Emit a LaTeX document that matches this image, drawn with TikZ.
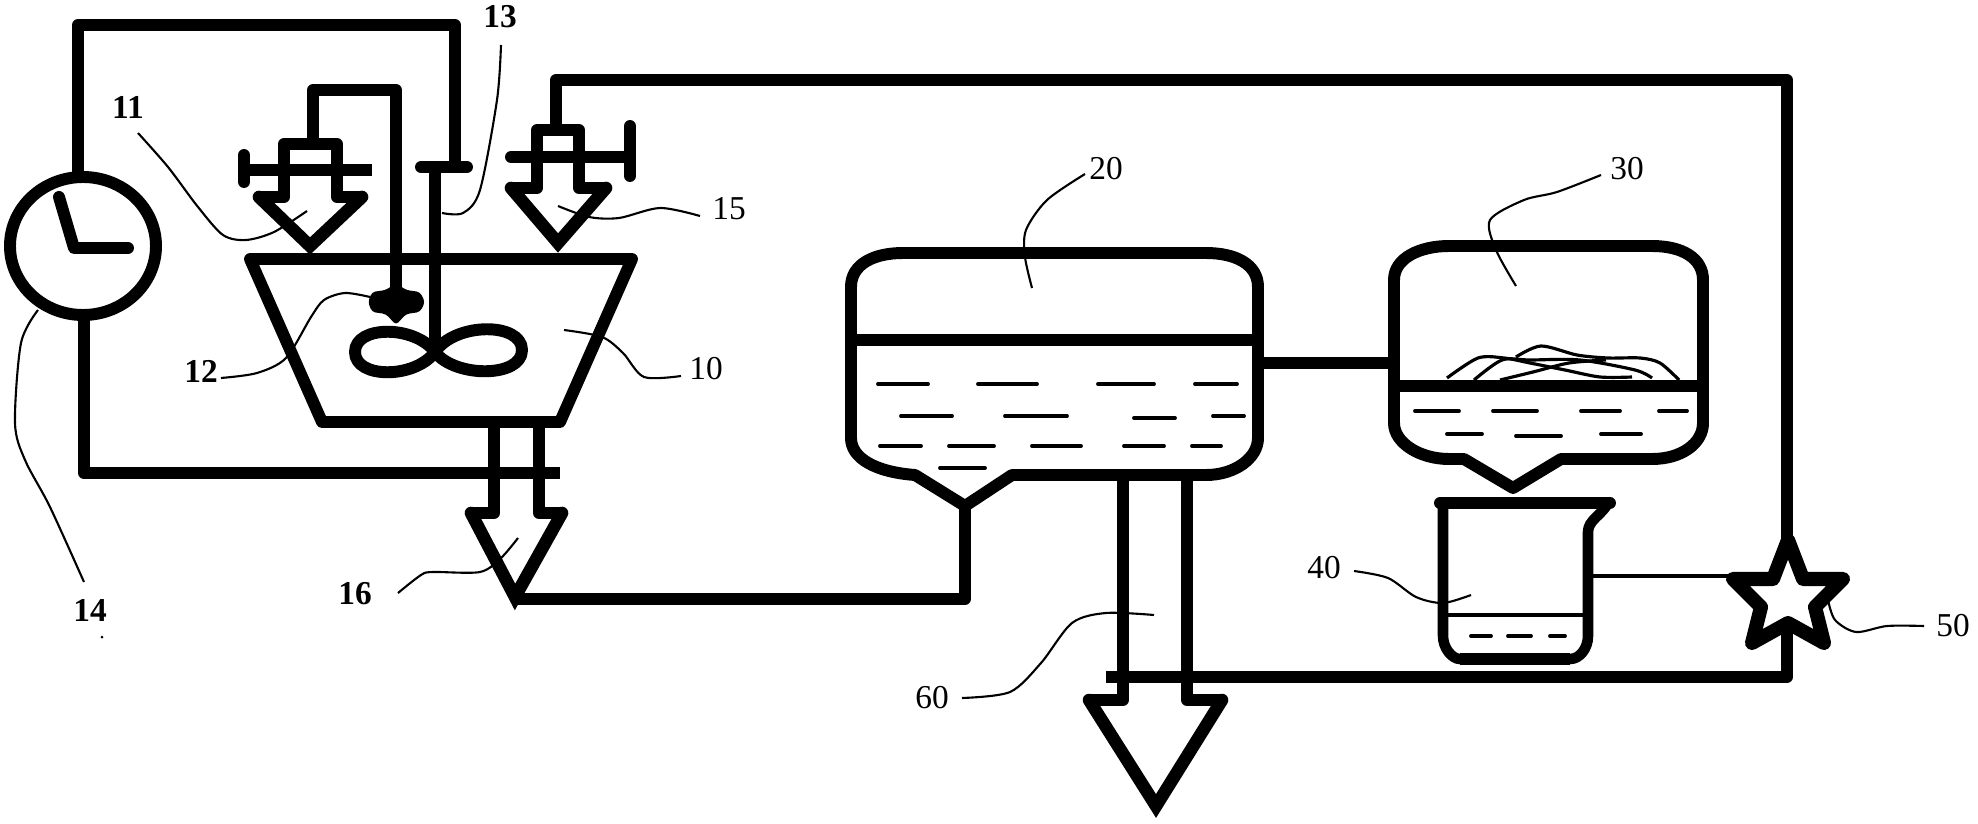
\documentclass[tikz,border=0pt]{standalone}
\usepackage{fontspec}
\setmainfont{Liberation Serif}
\begin{document}
\begin{tikzpicture}[x=0.02cm, y=-0.02cm,
  pipe/.style={line width=6.8pt, line join=round},
  vessel/.style={line width=6.8pt, line join=round},
  arrowhead/.style={line width=7.2pt, line join=miter, line cap=round},
  leader/.style={line width=1.2pt},
  thinline/.style={line width=1.8pt},
  liquid/.style={line width=2.2pt, line cap=round},
  label/.style={font=\fontsize{19}{19}\selectfont, inner sep=0pt},
  boldlabel/.style={label, font=\fontsize{19}{19}\selectfont\bfseries}]
\useasboundingbox (0,0) rectangle (1978,824);
% Clock 14 and its lines
\draw [pipe] (83,246) ellipse [x radius=73, y radius=69];
\draw [pipe, line cap=round] (59,197) -- (74,248) -- (128,248);
\draw [pipe] (78,175) -- (78,25) -- (455,25) -- (455,167);
\draw [pipe] (84,320) -- (84,473) -- (560,473);
% Mixing tank 10
\draw [vessel] (250,259) -- (632,259) -- (560,422) -- (322,422) -- cycle;
\draw [pipe, line cap=round] (421,167) -- (467,167);
\draw [pipe] (435,167) -- (435,350);
\draw [pipe] (435,352) .. controls (415,325) and (355,325) .. (355,352) .. controls (355,379) and (415,379) .. (435,352);
\draw [pipe] (435,352) .. controls (455,322) and (522,322) .. (522,350) .. controls (522,378) and (455,378) .. (435,352);
% Feed valve 11
\draw [pipe] (259,197) -- (284,197) -- (284,144) -- (337,144) -- (337,197) -- (362,197);
\draw [arrowhead] (259,197) -- (310,246) -- (362,197);
\draw [pipe] (242,170) -- (372,170);
\draw [pipe, line cap=round] (244,155) -- (244,182);
\draw [pipe] (313,144) -- (313,90) -- (396,90) -- (396,302);
\fill [rounded corners=2pt] (368,302) -- (372,292) -- (386,290) -- (396,283) -- (406,290) -- (420,292) -- (425,302) -- (420,312) -- (406,314) -- (396,325) -- (386,314) -- (372,312) -- cycle;
% Feed valve 15
\draw [pipe] (511,188) -- (537,188) -- (537,130) -- (579,130) -- (579,188) -- (606,188);
\draw [arrowhead] (511,188) -- (558,243) -- (606,188);
\draw [pipe, line cap=round] (511,157) -- (630,157);
\draw [pipe, line cap=round] (630,126) -- (630,176);
\draw [pipe] (556,130) -- (556,80) -- (1787,80) -- (1787,545);
% Discharge 16
\draw [pipe] (471,513) -- (494,513) -- (494,422);
\draw [pipe] (562,513) -- (539,513) -- (539,422);
\draw [arrowhead] (471,513) -- (515,597) -- (562,513);
\draw [pipe] (515,599) -- (965,599) -- (965,500);
% Settling tank 20
\draw [vessel] (851,287) .. controls (851,264) and (874,253) .. (903,253) -- (1206,253) .. controls (1235,253) and (1258,264) .. (1258,287) -- (1258,438) .. controls (1258,458) and (1235,475) .. (1206,475) -- (1012,475) -- (965,506) -- (915,475) .. controls (875,472) and (851,458) .. (851,438) -- cycle;
\draw [pipe] (851,340) -- (1258,340);
\foreach \xa/\xb/\ya in {878/928/384, 978/1037/384, 1098/1154/384, 1195/1237/384,
  901/952/416, 1005/1067/416, 1134/1175/418, 1213/1244/416,
  880/921/446, 949/994/446, 1032/1081/446, 1124/1164/446, 1192/1221/446, 940/985/468}
  \draw [liquid] (\xa,\ya) -- (\xb,\ya);
\draw [pipe] (1258,363) -- (1394,363);
% Settling tank 30
\draw [vessel] (1394,280) .. controls (1394,258) and (1420,246) .. (1449,246) -- (1652,246) .. controls (1682,246) and (1703,258) .. (1703,280) -- (1703,423) .. controls (1703,443) and (1682,459) .. (1652,459) -- (1561,459) -- (1513,488) -- (1464,459) -- (1449,459) .. controls (1420,459) and (1394,443) .. (1394,423) -- cycle;
\draw [pipe] (1394,386) -- (1703,386);
\foreach \xa/\xb/\ya in {1415/1459/411, 1493/1537/411, 1581/1620/411, 1659/1687/411,
  1447/1482/434, 1516/1561/436, 1601/1641/434}
  \draw [liquid] (\xa,\ya) -- (\xb,\ya);
\draw [thinline] plot [smooth] coordinates {(1447,378) (1478,358) (1504,358) (1530,363) (1565,370) (1600,377) (1632,377)};
\draw [thinline] plot [smooth] coordinates {(1474,380) (1502,360) (1530,360) (1580,360) (1635,370) (1652,378)};
\draw [thinline] plot [smooth] coordinates {(1516,357) (1541,346) (1577,355) (1608,358) (1640,358) (1660,363) (1679,380)};
\draw [thinline] plot [smooth] coordinates {(1500,380) (1533,372) (1569,363) (1606,360)};
% Beaker 40
\draw [line width=6pt, line join=round] (1443,503) -- (1443,636) .. controls (1443,648) and (1452,659) .. (1460,659) -- (1570,659) .. controls (1580,659) and (1588,648) .. (1588,636) -- (1588,532) .. controls (1588,520) and (1602,515) .. (1608,503);
\draw [pipe, line cap=round] (1440,503) -- (1610,503);
\draw [pipe] (1460,659) -- (1570,659);
\draw [thinline] (1443,615) -- (1588,615);
\foreach \xa/\xb in {1471/1491, 1508/1531, 1550/1565}
  \draw [liquid] (\xa,636) -- (\xb,636);
\draw [thinline] (1588,576) -- (1733,576);
% Star 50
\draw [line width=8pt, line join=round] (1788,540) -- (1803,579) -- (1843,579) -- (1815,607) -- (1824,643) -- (1788,623) -- (1752,643) -- (1761,607) -- (1733,579) -- (1773,579) -- cycle;
\draw [pipe] (1787,625) -- (1787,677) -- (1106,677);
% Discharge 60
\draw [pipe] (1089,700) -- (1123,700) -- (1123,475);
\draw [pipe] (1222,700) -- (1187,700) -- (1187,475);
\draw [arrowhead] (1089,700) -- (1156,806) -- (1222,700);
% Leaders
\draw [leader] plot [smooth] coordinates {(138,133) (168,167) (198,207) (223,235) (246,240) (274,232) (307,211)};
\draw [leader] plot [smooth] coordinates {(501,45) (497,100) (480,190) (463,213) (442,213)};
\draw [leader] plot [smooth] coordinates {(221,378) (257,373) (286,358) (311,317) (324,300) (345,293) (370,297)};
\draw [leader] plot [smooth] coordinates {(38,310) (21,343) (15,423) (25,460) (50,507) (84,582)};
\draw [leader] plot [smooth] coordinates {(558,206) (589,217) (619,218) (660,208) (700,216)};
\draw [leader] plot [smooth] coordinates {(564,330) (602,337) (623,353) (644,377) (681,376)};
\draw [leader] plot [smooth] coordinates {(398,593) (421,575) (433,572) (480,572) (501,558) (518,538)};
\draw [leader] plot [smooth] coordinates {(1085,174) (1047,200) (1026,230) (1025,257) (1032,288)};
\draw [leader] plot [smooth] coordinates {(1601,175) (1557,192) (1524,200) (1490,220) (1496,250) (1516,286)};
\draw [leader] plot [smooth] coordinates {(1354,571) (1388,578) (1416,597) (1443,603) (1471,595)};
\draw [leader] plot [smooth] coordinates {(1828,600) (1835,620) (1856,632) (1887,626) (1924,626)};
\draw [leader] plot [smooth] coordinates {(962,698) (1010,692) (1041,663) (1072,623) (1106,613) (1154,615)};
\fill (102,637) circle [radius=1.5];
% Labels
\node [label] (l10) at (706,369) {10};
\node [boldlabel] (l11) at (128,107) {11};
\node [boldlabel] (l12) at (201,371) {12};
\node [boldlabel] (l13) at (500,17) {13};
\node [boldlabel] (l14) at (90,610) {14};
\node [label] (l15) at (729,209) {15};
\node [boldlabel] (l16) at (355,594) {16};
\node [label] (l20) at (1106,169) {20};
\node [label] (l30) at (1627,169) {30};
\node [label] (l40) at (1324,568) {40};
\node [label] (l50) at (1953,626) {50};
\node [label] (l60) at (932,698) {60};
\end{tikzpicture}
\end{document}
